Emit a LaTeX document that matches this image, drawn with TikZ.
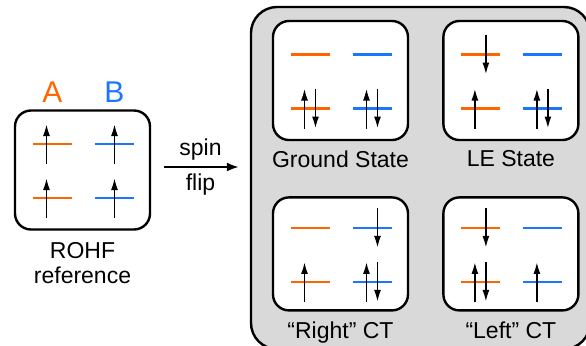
\documentclass[tikz,border=0pt]{standalone}
\usepackage{fontspec}
\setmainfont{Liberation Sans}
\usetikzlibrary{arrows.meta, calc, positioning}
\definecolor{orbA}{RGB}{255,102,0}
\definecolor{orbB}{RGB}{28,117,255}
\tikzset{
    config/.style  = {draw, line width=1.2pt, fill=white, rounded corners=8pt,
                      minimum width=67.5pt, minimum height=59.5pt},
    statebg/.style = {draw, line width=1.2pt, fill=black!15, rounded corners=13pt,
                      minimum width=169.5pt, minimum height=171pt},
    levelA/.style  = {draw=orbA, line width=1.1pt},
    levelB/.style  = {draw=orbB, line width=1.1pt},
    spin/.style    = {-{Latex[length=6pt,width=3.5pt]}, line width=0.9pt},
    spin u/.style  = {shift={(-6,0)}},
    spin c/.style  = {},
    spin d/.style  = {shift={(5,0)}, yscale=-1},
    caption/.style = {align=center, inner sep=3pt},
    larrow/.style  = {-{Latex[length=6pt,width=4.5pt]}, line width=1pt}
}

\begin{document}
\begin{tikzpicture}[x=0.5pt, y=-0.5pt, font=\fontsize{11.5}{12.5}\selectfont]
    \useasboundingbox (0,0) rectangle (586,345);

    \node[statebg] (bg) at (420.5,178) {};

    \node[config] (rohf) at (82.5,170) {};
    \node[config] (gs)   at (340.5,80.5) {};
    \node[config] (le)   [right=16.5pt of gs] {};
    \node[config, minimum height=56.5pt] (rct) [below=27.5pt of gs] {};
    \node[config, minimum height=56.5pt] (lct) [right=16.5pt of rct] {};

    \node[caption, text=orbA, font=\fontsize{15}{15}\selectfont] (labA) at ($(rohf.north)+(-30,-17)$) {A};
    \node[caption, text=orbB, font=\fontsize{15}{15}\selectfont] (labB) at ($(rohf.north)+(32,-17)$) {B};

    \node[caption] (rohfcap) [below=2.5pt of rohf] {ROHF\\reference};
    \node[caption] (gscap)   [below=1.5pt of gs]   {Ground State};
    \node[caption] (lecap)   [below=1.5pt of le]   {LE State};
    \node[caption] (rctcap)  [below=2pt of rct]    {``Right'' CT};
    \node[caption] (lctcap)  [below=2pt of lct]    {``Left'' CT};

    % orbital levels, 1 = lower, 2 = upper
    \foreach \Box in {rohf,gs,le,rct,lct} {
        \coordinate (\Box-A1) at ($(\Box.center)+(-30,28)$);
        \coordinate (\Box-A2) at ($(\Box.center)+(-30,-26)$);
        \coordinate (\Box-B1) at ($(\Box.center)+(32,28)$);
        \coordinate (\Box-B2) at ($(\Box.center)+(32,-26)$);
        \foreach \Lev in {1,2} {
            \draw[levelA] ($(\Box-A\Lev)+(-19.5,0)$) -- ++(39,0);
            \draw[levelB] ($(\Box-B\Lev)+(-19.5,0)$) -- ++(39,0);
        }
    }

    % electrons
    \foreach \Box/\Lev/\Dir in {%
        rohf/A1/u, rohf/A2/u, rohf/B1/c, rohf/B2/c,
        gs/A1/u, gs/A1/d, gs/B1/u, gs/B1/d,
        le/A2/d, le/A1/u, le/B1/u, le/B1/d,
        rct/A1/u, rct/B2/d, rct/B1/u, rct/B1/d,
        lct/A2/d, lct/A1/u, lct/A1/d, lct/B1/u%
    }
    \draw[spin, shift={(\Box-\Lev)}, spin \Dir] (0,20) -- (0,-20);

    \draw[larrow, shorten <=6.5pt, shorten >=5.5pt]
        ([yshift=1.5pt]rohf.east) -- ([yshift=1.5pt]rohf.east -| bg.west)
        node[caption, above, midway] {spin}
        node[caption, below, midway] {flip};
\end{tikzpicture}
\end{document}
